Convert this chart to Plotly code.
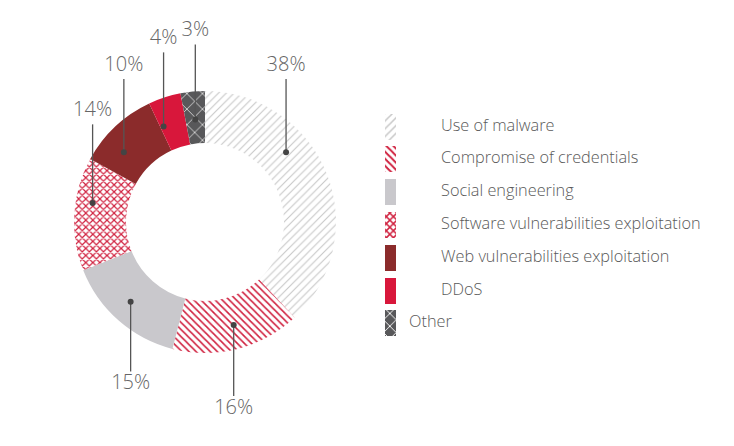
import numpy as np
import plotly.graph_objects as go

# slices, clockwise from 12 o'clock
categories = ["Use of malware", "Compromise of credentials", "Social engineering",
              "Software vulnerabilities exploitation", "Web vulnerabilities exploitation",
              "DDoS", "Other"]
shares = [38, 16, 15, 14, 10, 4, 3]
pct_labels = [f"{v}%" for v in shares]

# styling per slice
bg_colors = ["#ffffff", "#ffffff", "#c9c8cc", "#ffffff", "#8b2b2b", "#d8173b", "#58585a"]
fg_colors = ["#c8c8c8", "#d0213f", "#c9c8cc", "#d0213f", "#8b2b2b", "#d8173b", "#ffffff"]
shapes = ["/", "\\", "", "x", "", "", "x"]
sizes = [5.5, 5, 6, 5, 6, 6, 11]
solid = [0.2, 0.32, 0.3, 0.42, 0.3, 0.3, 0.12]
# where along each slice the leader dot sits (0 = start, 1 = end)
anchor_frac = [0.36, 0.48, 0.53, 0.62, 0.33, 0.12, 0.5]
anchor_r = [107, 107, 109, 114, 107, 104, 103]

W, H = 734, 446            # window size
OFF = 8                    # page body margin
FW, FH = W - 2 * OFF, H - 2 * OFF
cx, cy = 205, H - 222      # donut centre in window pixels (y up)
r_out, r_in = 131, 79

fig = go.Figure()
fig.add_trace(go.Pie(
    values=shares, labels=categories, sort=False, direction="clockwise", rotation=0,
    hole=r_in / r_out, textinfo="none", hoverinfo="label+percent", showlegend=False,
    marker=dict(colors=bg_colors, line=dict(width=0),
                pattern=dict(shape=shapes, fgcolor=fg_colors, size=sizes,
                             solidity=solid, fillmode="overlay", fgopacity=1)),
    domain=dict(x=[(cx - r_out - OFF) / FW, (cx + r_out - OFF) / FW],
                y=[(cy - r_out - OFF) / FH, (cy + r_out - OFF) / FH]),
))

# leader dots, lines and percentage labels
cum = np.cumsum([0] + shares[:-1])
theta = np.radians(360 * (cum + np.array(shares) * np.array(anchor_frac)) / sum(shares))
dx = np.array(anchor_r) * np.sin(theta)
dy = np.array(anchor_r) * np.cos(theta)
dot_x = cx + dx
dot_y = cy + dy
edge = np.sqrt(np.maximum(r_out ** 2 - dx ** 2, 0))
gap = 40 + 20 * np.abs(np.cos(theta))
up = dy > 0
txt_y = np.where(up, cy + edge + gap, cy - edge - gap)
end_y = np.where(up, txt_y - 13, txt_y + 13)

for i in range(len(shares)):
    fig.add_shape(type="line", xref="x", yref="y", layer="above",
                  x0=dot_x[i], y0=dot_y[i], x1=dot_x[i], y1=end_y[i],
                  line=dict(color="#555555", width=1.3))
    fig.add_shape(type="circle", xref="x", yref="y", layer="above",
                  x0=dot_x[i] - 3, x1=dot_x[i] + 3, y0=dot_y[i] - 3, y1=dot_y[i] + 3,
                  fillcolor="#444444", line=dict(width=0))
fig.add_trace(go.Scatter(x=dot_x, y=txt_y, mode="text", text=pct_labels,
                         textfont=dict(family="Open Sans", size=20, color="#666666", weight=300),
                         hoverinfo="skip", showlegend=False))

# custom legend: patterned swatches + text
row_top = 126.5
row_step = 32.8
row_y = np.array([H - (row_top + i * row_step) for i in range(len(categories))])
for i in range(len(categories)):
    fig.add_trace(go.Bar(
        x=[390.5], y=[26], base=[row_y[i] - 13], width=11,
        marker=dict(color=bg_colors[i], line=dict(width=0),
                    pattern=dict(shape=shapes[i], fgcolor=fg_colors[i], size=min(sizes[i], 9),
                                 solidity=min(solid[i] + 0.08, 0.5), fillmode="overlay",
                                 fgopacity=1)),
        hoverinfo="skip", showlegend=False))
fig.add_trace(go.Scatter(
    x=[441] * 6 + [409], y=row_y, mode="text", text=categories, textposition="middle right",
    textfont=dict(family="Open Sans", size=16.3, color="#595959", weight=300),
    hoverinfo="skip", showlegend=False))

fig.update_layout(
    width=FW, height=FH, autosize=False,
    paper_bgcolor="white", plot_bgcolor="rgba(0,0,0,0)",
    margin=dict(l=0, r=0, t=0, b=0),
    xaxis=dict(range=[OFF, W - OFF], visible=False, fixedrange=True),
    yaxis=dict(range=[OFF, H - OFF], visible=False, fixedrange=True),
    barmode="overlay", bargap=0,
)
fig.write_html("out.html")
